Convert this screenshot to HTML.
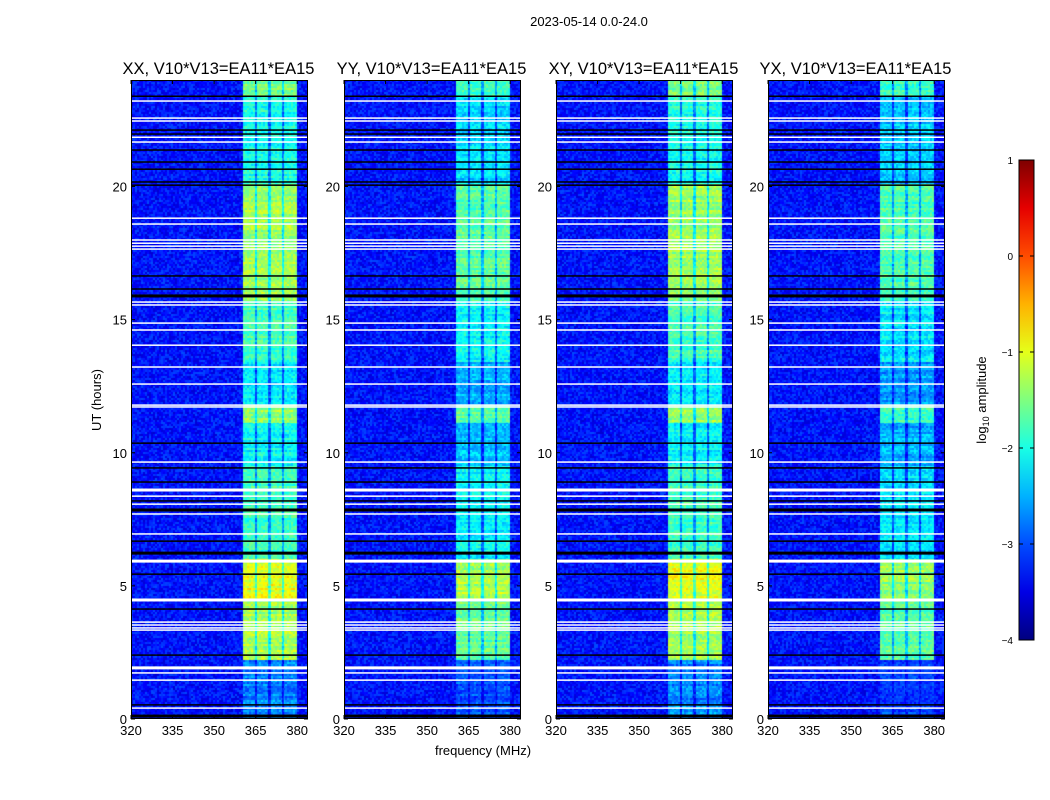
<!DOCTYPE html>
<html><head><meta charset="utf-8">
<style>
body{margin:0;background:#fff;font-family:"Liberation Sans",sans-serif;}
#root{position:relative;width:1050px;height:800px;overflow:hidden;background:#fff}
</style></head>
<body><div id="root">
<svg id="svg" width="1050" height="800" style="position:absolute;left:0;top:0"></svg>
</div>
<script>
// ---- data ----
const panelTitles = ["XX, V10*V13=EA11*EA15","YY, V10*V13=EA11*EA15","XY, V10*V13=EA11*EA15","YX, V10*V13=EA11*EA15"];
const panelGain = [0, -0.3, 0, -0.4];
const xTicks = [320,335,350,365,380];
const yTicks = [0,5,10,15,20];
const cbTicks = [1,0,-1,-2,-3,-4];
const cbTickLabels = ["1","0","\u22121","\u22122","\u22123","\u22124"];
// time segments of RFI band: start hour, end hour, log amplitude
const segStart = [0,2.2,4.5,6.0,9.5,11.1,11.8,13.4,15.7,20.1,23.4];
const segEnd   = [2.2,4.5,6.0,9.5,11.1,11.8,13.4,15.7,20.1,23.4,24];
const segLevel = [-2.7,-1.3,-1.0,-1.8,-2.1,-1.4,-2.2,-1.8,-1.35,-2.0,-1.5];
const bandLo = 360.5, bandHi = 380.0;
const bandGaps = [365.2,370.0,375.0];
const bgLevel = -3.3;
const whiteHours = [23.21,22.57,22.46,21.85,21.67,18.81,18.59,17.99,17.87,17.76,17.65,15.66,15.55,14.87,14.61,14.04,13.22,12.58,11.79,11.72,9.65,8.60,8.37,8.07,7.70,6.95,5.93,4.47,3.64,3.53,3.42,3.34,1.92,1.73,1.46,0.41];
const whiteThick = [8.60,5.93,4.47,1.92];
const blackHours = [23.39,22.12,21.97,21.37,20.92,20.65,20.17,20.05,16.64,16.15,15.89,10.36,9.43,8.90,8.19,7.85,6.68,6.23,5.44,4.13,2.40,0.53,0.11];
const blackThick = [7.85,6.23,0.11,15.89];

// ---- layout ----
const panelX = [131,344,556,768], PW=177, PT=80, PB=719;
const fMin=320, fMax=383.9, tMin=0, tMax=24;
const xs = (f,i)=>panelX[i]+(f-fMin)/(fMax-fMin)*PW;
const ys = h=>PB-(h-tMin)/(tMax-tMin)*(PB-PT);
const cbX=1019, cbW=15, cbTop=160, cbBot=640, vMin=-4, vMax=1;
const cbY = v=>cbBot-(v-vMin)/(vMax-vMin)*(cbBot-cbTop);

function jet(t){t=Math.max(0,Math.min(1,t));
 const r=Math.max(0,Math.min(1,1.5-Math.abs(4*t-3))),g=Math.max(0,Math.min(1,1.5-Math.abs(4*t-2))),b=Math.max(0,Math.min(1,1.5-Math.abs(4*t-1)));
 return [r*255|0,g*255|0,b*255|0];}
function hash(a,b,c){let h=(a*374761393+b*668265263+c*2147483647)|0;h=(h^(h>>>13))*1274126177|0;h=h^(h>>>16);return ((h>>>0)%10000)/10000;}
function levelAt(h){for(let k=0;k<segStart.length;k++)if(h>=segStart[k]&&h<segEnd[k])return segLevel[k];return bgLevel;}

const NS='http://www.w3.org/2000/svg';
const svg=document.getElementById('svg');
function el(tag,attrs,parent){const e=document.createElementNS(NS,tag);for(const k in attrs)e.setAttribute(k,attrs[k]);(parent||svg).appendChild(e);return e;}
function txt(s,x,y,size,anchor,parent,rot){const e=el('text',{x:x,y:y,'font-size':size,'text-anchor':anchor||'middle','font-family':'Liberation Sans, sans-serif'},parent);if(rot)e.setAttribute('transform',`rotate(-90 ${x} ${y})`);e.textContent=s;return e;}

const root=document.getElementById('root');
for(let i=0;i<4;i++){
 const cv=document.createElement('canvas');cv.width=PW;cv.height=PB-PT;
 cv.style.cssText=`position:absolute;left:${panelX[i]}px;top:${PT}px`;
 
 
 root.insertBefore(cv,svg);
 const ctx=cv.getContext('2d');const im=ctx.createImageData(PW,PB-PT);
 for(let py=0;py<PB-PT;py++){
  const h=tMax-(py+0.5)/(PB-PT)*(tMax-tMin);const lv=levelAt(h)+panelGain[i];
  const cy=Math.floor(py/2);
  const rowN=(hash(0,cy,i+11)-0.5)*0.35;
  for(let px=0;px<PW;px++){
   const f=fMin+(px+0.5)/PW*(fMax-fMin);const cx=Math.floor(px/2);
   let v=bgLevel+(hash(cx,cy,i+1)-0.5)*0.6;
   if(f>=bandLo&&f<=bandHi){
    let bv=lv+rowN+(hash(cx,cy,i+7)-0.5)*0.5;
    for(const g of bandGaps){if(Math.abs(f-g)<0.4)bv-=0.8;}
    v=Math.max(v,bv);
   }
   const c=jet((v-vMin)/(vMax-vMin));const o=(py*PW+px)*4;
   im.data[o]=c[0];im.data[o+1]=c[1];im.data[o+2]=c[2];im.data[o+3]=255;
  }
 }
 ctx.putImageData(im,0,0);
 const g=el('g',{});
 
 
 whiteHours.forEach(hh=>{const th=whiteThick.includes(hh)?3:1.5;const r=el('rect',{x:panelX[i],y:ys(hh)-th/2,width:PW,height:th,fill:'#fff'},g);
  });
 blackHours.forEach(hh=>{const th=blackThick.includes(hh)?3:1.5;const r=el('rect',{x:panelX[i],y:ys(hh)-th/2,width:PW,height:th,fill:'#000'},g);
  });
 const fr=el('rect',{x:panelX[i]+0.5,y:PT+0.5,width:PW-1,height:PB-PT-1,fill:'none',stroke:'#000','stroke-width':1},g);
 
 xTicks.forEach(t=>{const x=xs(t,i);el('line',{x1:x,x2:x,y1:PB,y2:PB-4,stroke:'#000'},g);el('line',{x1:x,x2:x,y1:PT,y2:PT+4,stroke:'#000'},g);
  const l=txt(String(t),x,PB+16,13,'middle',g);});
 yTicks.forEach(t=>{const y=ys(t);el('line',{x1:panelX[i],x2:panelX[i]+4,y1:y,y2:y,stroke:'#000'},g);el('line',{x1:panelX[i]+PW-4,x2:panelX[i]+PW,y1:y,y2:y,stroke:'#000'},g);
  const l=txt(String(t),panelX[i]-4,y+5,13,'end',g);});
 const tt=txt(panelTitles[i],panelX[i]+PW/2-1,74,16.5,'middle',g);
 
}
let s;
s=txt('2023-05-14 0.0-24.0',589,26,13);
s=txt('UT (hours)',101,400,13,'middle',null,true);
s=txt('frequency (MHz)',483,755,13);
// colorbar
const defs=el('defs',{});const lg=el('linearGradient',{id:'jg',x1:0,y1:1,x2:0,y2:0},defs);
for(let k=0;k<=10;k++){const c=jet(k/10);el('stop',{offset:k/10,'stop-color':`rgb(${c})`},lg);}
const cb=el('rect',{x:cbX,y:cbTop,width:cbW,height:cbBot-cbTop,fill:'url(#jg)',stroke:'#000'});

cbTicks.forEach((t,k)=>{const y=cbY(t);el('line',{x1:cbX,x2:cbX+4,y1:y,y2:y,stroke:'#000'});el('line',{x1:cbX+cbW-4,x2:cbX+cbW,y1:y,y2:y,stroke:'#000'});
 const l=txt(cbTickLabels[k],cbX-6,y+4,10,'end');});
s=el('text',{x:986,y:400,'font-size':13,'text-anchor':'middle','font-family':'Liberation Sans, sans-serif',transform:'rotate(-90 986 400)'});
s.innerHTML='log<tspan font-size="9" dy="3">10</tspan><tspan dy="-3"> amplitude</tspan>';

</script>
</body></html>
